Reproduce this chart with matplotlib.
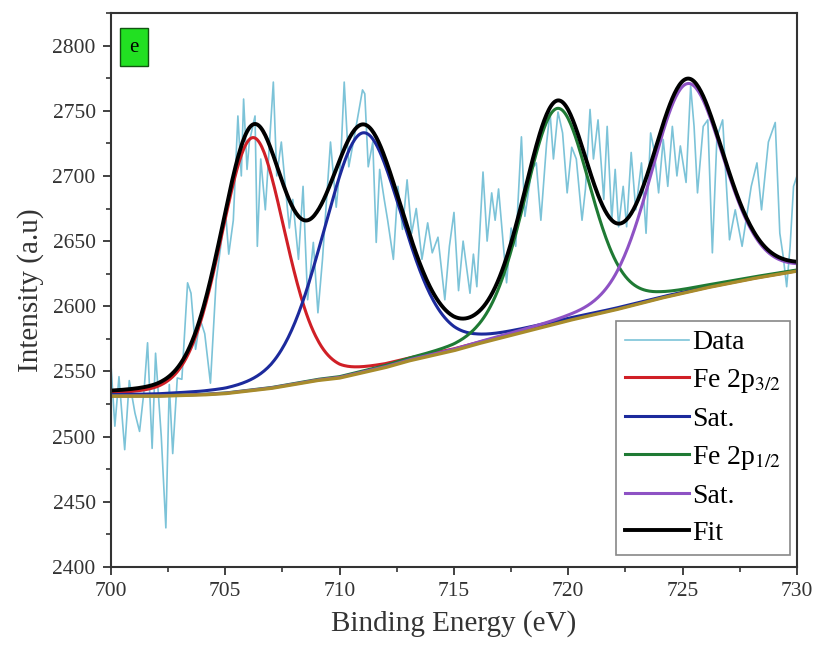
import numpy as np
import matplotlib
matplotlib.use("Agg")
import matplotlib.pyplot as plt

plt.rcParams["font.family"] = ["Liberation Serif", "DejaVu Serif"]
plt.rcParams["mathtext.fontset"] = "stix"

# raw spectrum (binding energy eV, intensity)
energy = [700.0, 700.17, 700.35, 700.6, 700.8, 701.05, 701.25, 701.45, 701.6, 701.8,
          701.95, 702.2, 702.4, 702.55, 702.7, 702.9, 703.1, 703.35, 703.5, 703.7,
          703.9, 704.1, 704.35, 704.6, 704.8, 705.0, 705.15, 705.35, 705.55, 705.7,
          705.8, 705.95, 706.05, 706.3, 706.4, 706.55, 706.75, 707.1, 707.25, 707.45,
          707.65, 707.8, 707.95, 708.2, 708.4, 708.6, 708.85, 709.05, 709.25, 709.45,
          709.6, 709.85, 710.05, 710.2, 710.4, 710.6, 711.0, 711.1, 711.25, 711.45,
          711.6, 711.75, 711.95, 712.1, 712.35, 712.55, 712.75, 712.95, 713.15, 713.35,
          713.6, 713.85, 714.05, 714.3, 714.6, 714.8, 715.0, 715.2, 715.4, 715.55,
          715.7, 715.85, 716.0, 716.27, 716.45, 716.65, 716.8, 716.95, 717.3, 717.5,
          717.7, 717.95, 718.1, 718.4, 718.6, 718.8, 719.05, 719.2, 719.35, 719.55,
          719.75, 719.95, 720.15, 720.35, 720.6, 720.75, 720.95, 721.1, 721.3, 721.55,
          721.7, 721.9, 722.05, 722.2, 722.4, 722.55, 722.75, 722.95, 723.2, 723.4,
          723.6, 723.75, 723.95, 724.15, 724.35, 724.55, 724.75, 724.9, 725.15, 725.35,
          725.5, 725.65, 725.9, 726.1, 726.3, 726.5, 726.75, 727.05, 727.3, 727.6,
          728.0, 728.25, 728.45, 728.75, 729.05, 729.25, 729.4, 729.55, 729.7, 729.85,
          730.0]
intensity = [2555, 2508, 2546, 2490, 2543, 2518, 2504, 2536, 2572, 2491,
             2564, 2500, 2430, 2540, 2487, 2545, 2544, 2618, 2610, 2567,
             2590, 2579, 2541, 2620, 2646, 2675, 2640, 2666, 2746, 2700,
             2759, 2705, 2726, 2746, 2646, 2713, 2674, 2772, 2700, 2726,
             2687, 2660, 2682, 2636, 2692, 2605, 2649, 2595, 2636, 2687,
             2726, 2676, 2713, 2772, 2707, 2726, 2766, 2763, 2707, 2726,
             2649, 2705, 2682, 2666, 2636, 2692, 2659, 2697, 2656, 2675,
             2636, 2664, 2641, 2653, 2605, 2646, 2672, 2612, 2650, 2630,
             2610, 2640, 2615, 2703, 2650, 2687, 2666, 2690, 2618, 2660,
             2646, 2730, 2669, 2705, 2710, 2666, 2725, 2749, 2713, 2749,
             2733, 2687, 2722, 2713, 2666, 2690, 2751, 2713, 2743, 2682,
             2738, 2666, 2705, 2661, 2692, 2661, 2718, 2674, 2710, 2656,
             2733, 2720, 2687, 2728, 2692, 2738, 2700, 2723, 2695, 2769,
             2738, 2687, 2738, 2743, 2641, 2730, 2743, 2651, 2674, 2646,
             2692, 2710, 2674, 2726, 2741, 2656, 2638, 2615, 2646, 2692,
             2700]

# background levels
bg_energy = [700, 702, 704, 705, 706, 707, 708, 709, 710, 711, 712, 713, 714, 715,
             716, 718, 720, 722, 724, 726, 728, 730]
bg_level = [2531, 2531, 2532, 2533, 2535, 2537, 2540, 2543, 2545, 2549, 2553, 2558,
            2562, 2566, 2571, 2580, 2589, 2597, 2606, 2614, 2621, 2627]

# fitted components: centre (eV), height above background, gaussian sigma (eV)
peak_names = ["Fe 2p$_{3/2}$", "Sat.", "Fe 2p$_{1/2}$", "Sat."]
peak_centre = [706.2, 711.0, 719.5, 725.2]
peak_height = [194, 184, 165, 160]
peak_sigma = [1.42, 1.75, 1.45, 1.6]
peak_colors = ["#d01f26", "#1c2a9c", "#1f7a34", "#8e52c4"]
eta = 0.2  # lorentzian fraction


def pvoigt(x, c, h, s):
    g = np.exp(-(x - c) ** 2 / (2 * s ** 2))
    gam = s * np.sqrt(2 * np.log(2))
    l = 1 / (1 + ((x - c) / gam) ** 2)
    return h * ((1 - eta) * g + eta * l)


grid = np.linspace(700, 730, 601)
bg = np.interp(grid, bg_energy, bg_level)

fig = plt.figure(figsize=(8.19, 6.56), dpi=100)
ax = fig.add_axes([0.1355, 0.1357, 0.8376, 0.8445])

ax.plot(energy, intensity, color="#7cc3d8", lw=1.2, label="Data")
total = bg.copy()
for name, c, h, s, col in zip(peak_names, peak_centre, peak_height, peak_sigma, peak_colors):
    p = pvoigt(grid, c, h, s)
    total += p
    ax.plot(grid, bg + p, color=col, lw=2.2, label=name)
ax.plot(grid, bg, color="#a88c2c", lw=2.4)
ax.plot(grid, total, color="black", lw=2.8, label="Fit")

ax.set_xlim(700, 730)
ax.set_ylim(2400, 2825)
ax.set_xticks(np.arange(700, 731, 5))
ax.set_xticks(np.arange(702.5, 730, 5), minor=True)
ax.set_yticks(np.arange(2400, 2801, 50))
ax.set_yticks(np.arange(2425, 2826, 50), minor=True)
ax.tick_params(which="major", direction="out", length=6, width=1.3, labelsize=15.5,
               colors="#333333", pad=5)
ax.tick_params(which="minor", direction="out", length=3.5, width=1.2, colors="#333333")
for sp in ax.spines.values():
    sp.set_linewidth(1.5)
    sp.set_color("#333333")

ax.set_xlabel("Binding Energy (eV)", fontsize=21, color="#333333", labelpad=6)
ax.set_ylabel("Intensity (a.u)", fontsize=21, color="#333333", labelpad=6)

ax.text(0.033, 0.938, "e", transform=ax.transAxes, fontsize=15, ha="center", va="center",
        bbox=dict(boxstyle="square,pad=0.45", facecolor="#22e022", edgecolor="#115511", lw=1))

leg = ax.legend(loc="lower right", bbox_to_anchor=(0.99, 0.022), borderaxespad=0,
                fontsize=20, handlelength=2.3, handletextpad=0.1, labelspacing=0.42,
                fancybox=False, framealpha=1, edgecolor="#888888", borderpad=0.32)
leg.get_frame().set_linewidth(1.2)

fig.savefig("out.png", dpi=100)
